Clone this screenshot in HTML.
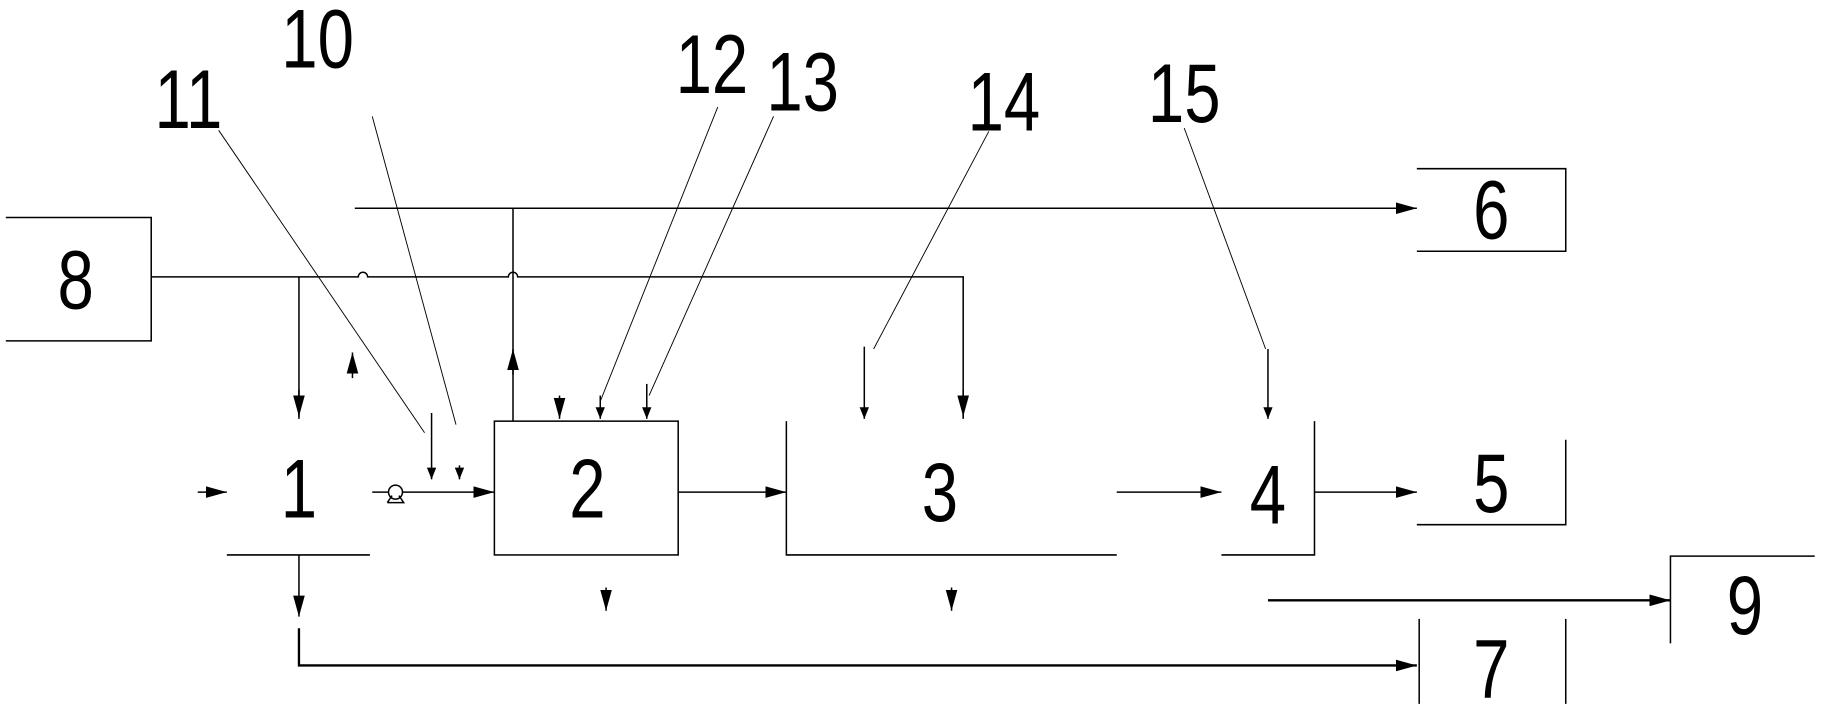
<!DOCTYPE html>
<html><head><meta charset="utf-8"><style>
html,body{margin:0;padding:0;background:#fff;width:1824px;height:712px;overflow:hidden}
svg{display:block}
text{font-family:"Liberation Sans",sans-serif;fill:#000}
</style></head><body>
<svg width="1824" height="712" viewBox="0 0 1568 612" preserveAspectRatio="none" xmlns="http://www.w3.org/2000/svg">
<defs>
<marker id="a" markerWidth="10" markerHeight="8" refX="10" refY="4" orient="auto" markerUnits="userSpaceOnUse"><path d="M0,0 L10,4 L0,8 Z" fill="#000"/></marker>
<marker id="b" markerWidth="18" markerHeight="10" refX="18" refY="5" orient="auto" markerUnits="userSpaceOnUse"><path d="M0,0 L18,5 L0,10 Z" fill="#000"/></marker>
</defs>
<g stroke="#000" stroke-width="1.3" fill="none">
<path d="M5,187 H130 V293 H5"/>
<path d="M1218,145 H1346 V216 H1218"/>
<path d="M1346,378 V451 H1218"/>
<path d="M1220,532 V605 M1346,532 V605"/>
<path d="M1436,553 V478 H1560"/>
<rect x="425" y="362" width="158" height="115"/>
<path d="M676,362 V477 H960"/>
<path d="M1130,362 V477 H1050"/>
<path d="M195,477 H318"/>
<path d="M305,179 H1218" marker-end="url(#b)"/>
<path d="M441,362 V300 M441,320 V179"/>
<path d="M441,322 V300" marker-end="url(#b)"/>
<path d="M303,325 V303" marker-end="url(#b)"/>
<path d="M130,238 H308 a4,4 0 0 1 8,0 H437 a4,4 0 0 1 8,0 H828 V360" />
<path d="M828,335 V358" marker-end="url(#b)"/>
<path d="M257,238 V360"/>
<path d="M257,335 V358" marker-end="url(#b)"/>
<path d="M170,423 H195" marker-end="url(#b)"/>
<path d="M320,423 H425" marker-end="url(#b)"/>
<circle cx="340" cy="423" r="6" fill="#fff"/>
<path d="M333,432 L347,432 L343,426 M337,426 L333,432"/>
<path d="M371,355 V412" marker-end="url(#a)"/>
<path d="M395,400 V412" marker-end="url(#a)"/>
<path d="M481,340 V360" marker-end="url(#b)"/>
<path d="M516,340 V360" marker-end="url(#a)"/>
<path d="M556,330 V360" marker-end="url(#a)"/>
<path d="M743,298 V360" marker-end="url(#a)"/>
<path d="M1090,300 V360" marker-end="url(#a)"/>
<path d="M583,423 H676" marker-end="url(#b)"/>
<path d="M960,423 H1050" marker-end="url(#b)"/>
<path d="M1130,423 H1218" marker-end="url(#b)"/>
<path d="M1090,516 H1436" stroke-width="2" marker-end="url(#b)"/>
<path d="M257,477 V530" marker-end="url(#b)"/>
<path d="M257,540 V572 H1218" stroke-width="2" marker-end="url(#b)"/>
<path d="M521,505 V525" marker-end="url(#b)"/>
<path d="M818,505 V525" marker-end="url(#b)"/>
<g stroke-width="0.8">
<path d="M188,112 L365,372"/>
<path d="M320,100 L392,365"/>
<path d="M617,92 L516,345"/>
<path d="M665,100 L558,340"/>
<path d="M850,113 L751,300"/>
<path d="M1018,110 L1088,300"/>
</g>
</g>
<g font-size="72" text-anchor="middle">
<text transform="translate(65,265) scale(0.78,1)">8</text>
<text transform="translate(1282,205) scale(0.78,1)">6</text>
<text transform="translate(1282,440) scale(0.78,1)">5</text>
<text transform="translate(1282,600) scale(0.78,1)">7</text>
<text transform="translate(1500,545) scale(0.78,1)">9</text>
<text transform="translate(257,445) scale(0.78,1)">1</text>
<text transform="translate(505,445) scale(0.78,1)">2</text>
<text transform="translate(808,448) scale(0.78,1)">3</text>
<text transform="translate(1090,450) scale(0.78,1)">4</text>
<text transform="translate(162,110) scale(0.78,1)">11</text>
<text transform="translate(273,58) scale(0.78,1)">10</text>
<text transform="translate(612,80) scale(0.78,1)">12</text>
<text transform="translate(690,95) scale(0.78,1)">13</text>
<text transform="translate(863,112) scale(0.78,1)">14</text>
<text transform="translate(1018,105) scale(0.78,1)">15</text>
</g>
</svg>
</body></html>
